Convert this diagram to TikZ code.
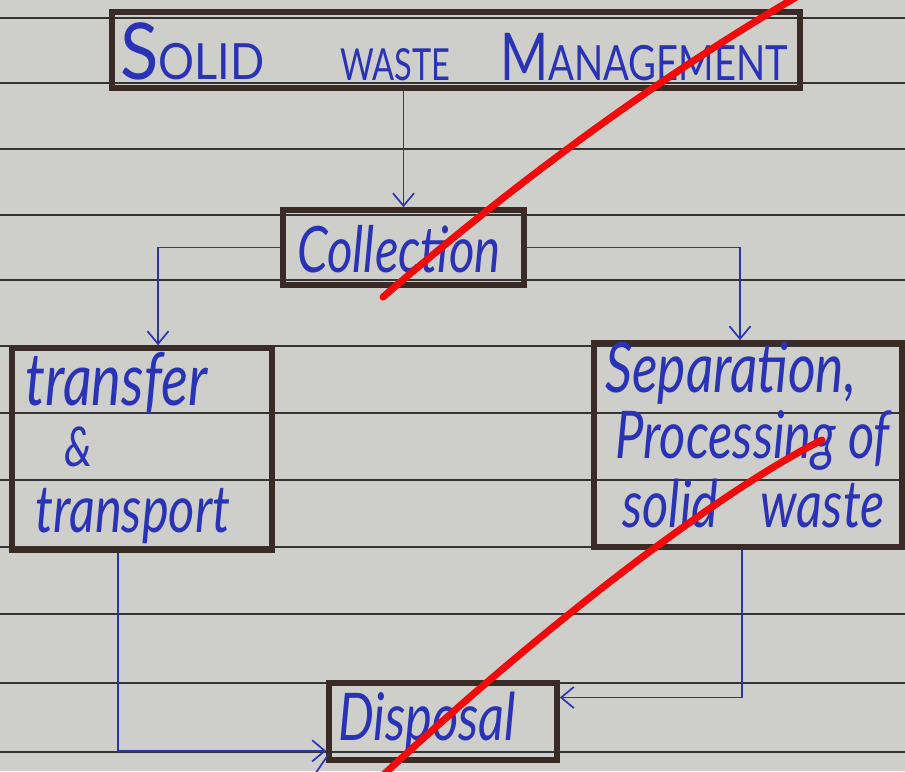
\documentclass[tikz,border=0pt]{standalone}
\usepackage{fontspec}
\setmainfont{Lato}
\usetikzlibrary{arrows.meta}
\definecolor{paper}{HTML}{CECECB}
\definecolor{ruleink}{HTML}{343434}
\definecolor{boxink}{HTML}{3A2B26}
\definecolor{ink}{HTML}{2A33B6}
\definecolor{redink}{HTML}{F20A0A}
% handwriting look: taller letters
\newcommand{\tallhand}[1]{\scalebox{1}[1.3]{#1}}
\begin{document}
\begin{tikzpicture}[x=0.025cm,y=-0.025cm,
  rule/.style={draw=ruleink, line width=1.3pt},
  wbox/.style={draw=boxink, line width=4pt, inner sep=0pt, rectangle},
  conn/.style={draw=ink, line width=1.2pt, -{Straight Barb[length=9pt,width=15pt,line width=1.2pt]}},
  hand/.style={text=ink, inner sep=0pt, anchor=base west, font=\itshape\fontsize{36}{36}\selectfont},
  caps/.style={text=ink, inner sep=0pt, anchor=base west, font=\fontsize{28}{28}\selectfont},
  redstroke/.style={draw=redink, line width=5pt, line cap=round}]
  \useasboundingbox (0,0) rectangle (905,771);
  \clip (0,0) rectangle (905,771);
  \fill[paper] (0,0) rectangle (905,771);
  % ruled lines of the notebook page
  \foreach \y in {18,83,149,215,280,346,413,480,547,614,683,752}
    \draw[rule] (0,\y) -- (905,\y);

  % boxes
  \node[wbox, minimum width=17.2cm, minimum height=1.9cm] (title) at (456,50) {};
  \node[wbox, minimum width=6.025cm, minimum height=1.875cm] (coll) at (403.5,247.5) {};
  \node[wbox, minimum width=6.5cm, minimum height=5.05cm] (trans) at (142,449) {};
  \node[wbox, minimum width=7.7cm, minimum height=5.1cm] (sep) at (748,445) {};
  \node[wbox, minimum width=5.7cm, minimum height=1.925cm] (disp) at (443,721.5) {};

  % title, in capitals
  \node[caps] (title1) at (120,79) {\resizebox{3.6cm}{1.42cm}{{\fontsize{44}{44}\selectfont S}OLID}};
  \node[caps] (title2) at (340,80) {\resizebox{2.75cm}{0.8cm}{WASTE}};
  \node[caps] (title3) at (500,80) {\resizebox{7.2cm}{1.18cm}{{\fontsize{38}{38}\selectfont M}ANAGEMENT}};

  % handwritten labels
  \node[hand, font=\itshape\fontsize{35}{35}\selectfont] (colltext) at (297,272) {\tallhand{Collection}};
  \node[hand, font=\itshape\fontsize{40}{40}\selectfont] (trans1) at (25,405) {\tallhand{transfer}};
  \node[hand, font=\itshape\fontsize{30}{30}\selectfont] (trans2) at (64,466) {\tallhand{\&}};
  \node[hand] (trans3) at (35,532) {\tallhand{transport}};
  \node[hand, font=\itshape\fontsize{38}{38}\selectfont] (sep1) at (605,392) {\tallhand{Separation,}};
  \node[hand] (sep2) at (615,458) {\tallhand{Processing of}};
  \node[hand] (sep3) at (622,527) {\tallhand{solid\hspace{30pt}waste}};
  \node[hand] (disptext) at (338,740) {\tallhand{Disposal}};

  % connectors
  \draw[conn] (title.south -| coll.north) -- (coll.north);
  \draw[conn] (coll.west) -| ([xshift=0.4cm]trans.north);
  \draw[conn] (coll.east) -| ([xshift=-0.2cm]sep.north);
  \draw[conn] ([xshift=-0.6cm]trans.south) |- ([yshift=0.3cm]disp.south west);
  \draw[conn] ([xshift=-0.15cm]sep.south) |- ([yshift=0.6cm]disp.east);
  \draw[draw=ink, line width=1.2pt] ([xshift=0.05cm,yshift=0.2cm]disp.south west) -- ++(-13,19);

  % red strokes across the page
  \draw[redstroke] (383,297) .. controls (518,180) and (666,72) .. (805,-8);
  \draw[redstroke] (380,778) .. controls (530,638) and (712,495) .. (822,440);
\end{tikzpicture}
\end{document}
